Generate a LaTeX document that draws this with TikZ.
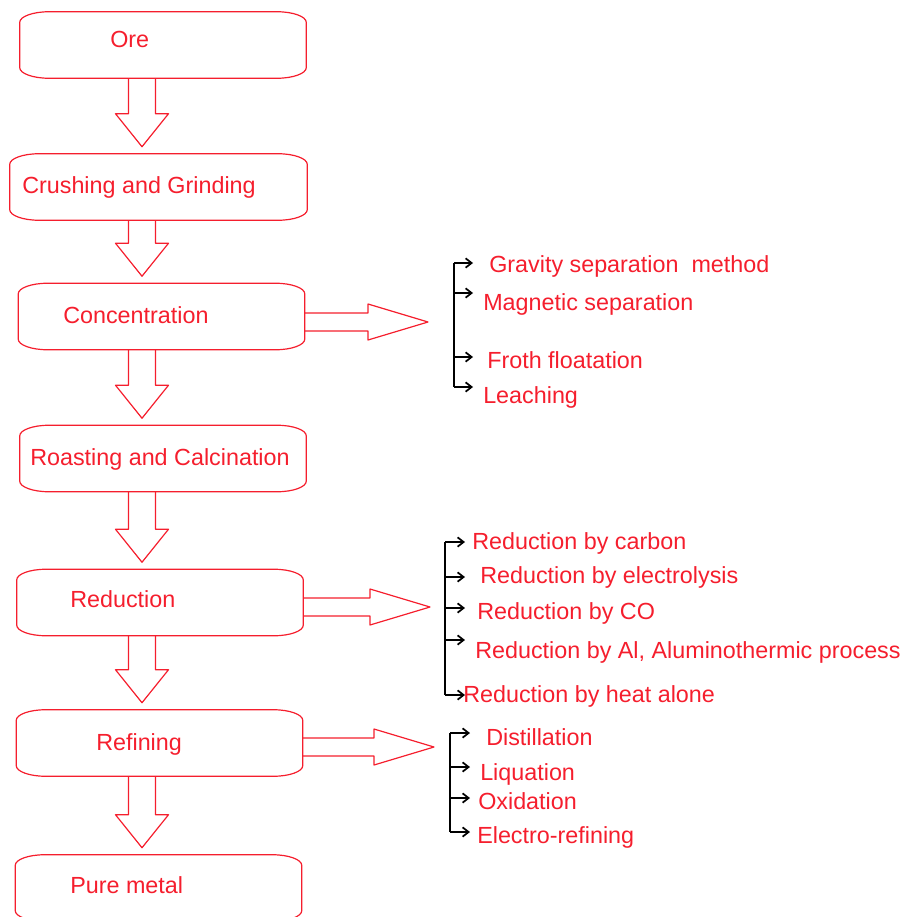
\documentclass[tikz,border=0pt]{standalone}
\usepackage{fontspec}
\setmainfont{Liberation Sans}
\usetikzlibrary{calc,arrows.meta}
\definecolor{orered}{RGB}{245,30,45}
\tikzset{
	stage/.style={minimum width=214.5pt,minimum height=49.5pt,inner sep=0pt},
	stagetext/.style={anchor=base west,inner sep=0pt,text=orered,font=\fontsize{17.5}{21}\selectfont},
	frameline/.style={draw=orered,line width=0.9pt,line join=round},
	corner/.style={x radius=22pt,y radius=8pt},
	spineline/.style={draw=black,line width=1.3pt},
	branch/.style={spineline,-{Straight Barb[length=4.5pt,width=7pt]}}
}
\newcommand{\stageframe}[1]{%
	\draw[frameline] ([xshift=22pt]#1.north west) -- ([xshift=-22pt]#1.north east)
		arc[corner,start angle=90,end angle=0] -- ([yshift=8pt]#1.south east)
		arc[corner,start angle=0,end angle=-90] -- ([xshift=22pt]#1.south west)
		arc[corner,start angle=270,end angle=180] -- ([yshift=-8pt]#1.north west)
		arc[corner,start angle=180,end angle=90] -- cycle;}
\newcommand{\blockdown}[2]{%
	\path (axis |- #2.north) ++(0,-7) coordinate (tip);
	\draw[frameline] ($(axis |- #1.south)+(-13.5,0)$) -- ($(tip)+(-13.5,-33)$) -- ($(tip)+(-26.5,-33)$)
		-- (tip) -- ($(tip)+(26.5,-33)$) -- ($(tip)+(13.5,-33)$) -- ($(axis |- #1.south)+(13.5,0)$);}
\newcommand{\blockright}[2]{%
	\draw[frameline] ($(#1.east |- #2)+(0,-9)$) -- ($(#2)+(-60,-9)$) -- ($(#2)+(-60,-18)$)
		-- (#2) -- ($(#2)+(-60,18)$) -- ($(#2)+(-60,9)$) -- ($(#1.east |- #2)+(0,9)$);}
\begin{document}
\begin{tikzpicture}[x=0.75pt,y=-0.75pt]
	\useasboundingbox (0,0) rectangle (914,917);
	\clip (0,0) rectangle (914,917);
	\coordinate (axis) at (142,0);
	\node[stage] (ore) at (163,45) {};
	\node[stage,minimum width=222.75pt] (crush) at (158.5,187) {};
	\node[stage] (conc) at (161.5,316.5) {};
	\node[stage] (roast) at (163,458.5) {};
	\node[stage] (reduc) at (160,602.5) {};
	\node[stage] (refin) at (159.5,743) {};
	\node[stage] (pure) at (158.5,888) {};
	\foreach \stagename in {ore,crush,conc,roast,reduc,refin,pure} {\stageframe{\stagename}}
	\node[stagetext] (oretext) at (110,48) {Ore};
	\node[stagetext] (crushtext) at (22,193) {Crushing and Grinding};
	\node[stagetext] (conctext) at (63,323) {Concentration};
	\node[stagetext] (roasttext) at (30,465) {Roasting and Calcination};
	\node[stagetext] (reductext) at (70,607) {Reduction};
	\node[stagetext] (refintext) at (96,750) {Refining};
	\node[stagetext] (puretext) at (70,893) {Pure metal};
	\blockdown{ore}{crush}
	\blockdown{crush}{conc}
	\blockdown{conc}{roast}
	\blockdown{roast}{reduc}
	\blockdown{reduc}{refin}
	\blockdown{refin}{pure}
	\coordinate (concend) at (428,322);
	\coordinate (reducend) at (430,607);
	\coordinate (refinend) at (434,747);
	\blockright{conc}{concend}
	\blockright{reduc}{reducend}
	\blockright{refin}{refinend}
	\coordinate (cspine) at (454,0);
	\coordinate (rspine) at (445,0);
	\coordinate (fspine) at (450,0);
	\node[stagetext] (gravity) at (489,272) {Gravity separation~~method};
	\node[stagetext] (magnetic) at (483,310) {Magnetic separation};
	\node[stagetext] (froth) at (487,368) {Froth floatation};
	\node[stagetext] (leaching) at (483,403) {Leaching};
	\node[stagetext] (carbon) at (472,549) {Reduction by carbon};
	\node[stagetext] (electrolysis) at (480,583) {Reduction by electrolysis};
	\node[stagetext] (co) at (477,619) {Reduction by CO};
	\node[stagetext] (alum) at (475,658) {Reduction by Al, Aluminothermic process};
	\node[stagetext] (heat) at (463,702) {Reduction by heat alone};
	\node[stagetext] (distil) at (486,745) {Distillation};
	\node[stagetext] (liquation) at (480,780) {Liquation};
	\node[stagetext] (oxidation) at (478,809) {Oxidation};
	\node[stagetext] (electro) at (477,843) {Electro-refining};
	\draw[spineline] ($(cspine |- gravity.base)+(0,-9)$) -- ($(cspine |- leaching.base)+(0,-16)$);
	\foreach \name/\off in {gravity/9,magnetic/17,froth/11,leaching/16}
		\draw[branch] ($(cspine |- \name.base)+(0,-\off)$) -- ++(19,0);
	\draw[spineline] ($(rspine |- carbon.base)+(0,-7)$) -- ($(rspine |- heat.base)+(0,-7)$);
	\foreach \name/\off in {carbon/7,electrolysis/6,co/11,alum/18,heat/7}
		\draw[branch] ($(rspine |- \name.base)+(0,-\off)$) -- ++(20,0);
	\draw[spineline] ($(fspine |- distil.base)+(0,-12)$) -- ($(fspine |- electro.base)+(0,-11)$);
	\foreach \name/\off in {distil/12,liquation/13,oxidation/11,electro/11}
		\draw[branch] ($(fspine |- \name.base)+(0,-\off)$) -- ++(20,0);
\end{tikzpicture}
\end{document}
